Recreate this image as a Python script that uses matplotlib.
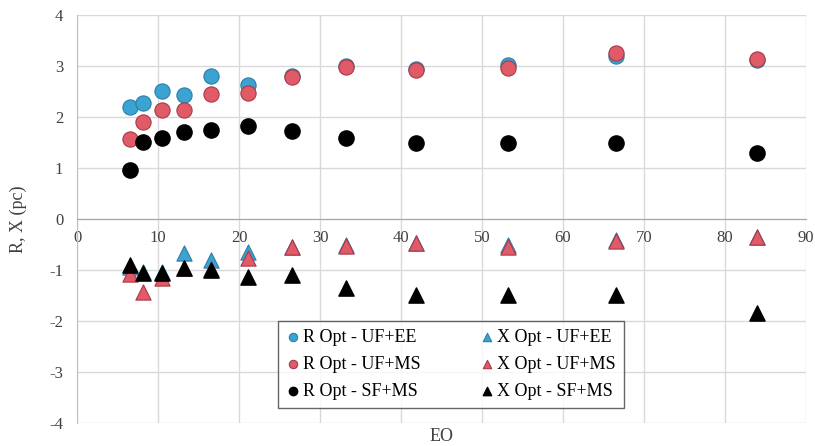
import matplotlib.pyplot as plt

plt.rcParams['font.family'] = ['Liberation Serif', 'DejaVu Serif']
plt.rcParams['axes.unicode_minus'] = False

eo = [6.5, 8.2, 10.5, 13.2, 16.5, 21.1, 26.6, 33.2, 41.8, 53.2, 66.5, 84.0]

r_uf_ee = [2.2, 2.28, 2.52, 2.44, 2.8, 2.62, 2.8, 3.0, 2.95, 3.02, 3.2, 3.12]
r_uf_ms = [1.56, 1.91, 2.14, 2.14, 2.46, 2.48, 2.79, 2.99, 2.92, 2.97, 3.25, 3.14]
r_sf_ms = [0.96, 1.52, 1.58, 1.71, 1.75, 1.82, 1.73, 1.58, 1.49, 1.49, 1.5, 1.3]

x_uf_ee = [-0.95, -1.05, -1.05, -0.67, -0.8, -0.64, -0.55, -0.52, -0.47, -0.52, -0.42, -0.35]
x_uf_ms = [-1.08, -1.43, -1.16, -0.97, -0.98, -0.76, -0.54, -0.53, -0.47, -0.54, -0.44, -0.35]
x_sf_ms = [-0.9, -1.06, -1.06, -0.97, -1.0, -1.13, -1.1, -1.36, -1.49, -1.5, -1.5, -1.84]

blue = '#3aa3d2'
red = '#e05a68'

fig = plt.figure(figsize=(8.15, 4.46), dpi=100)
ax = fig.add_axes([0.0945, 0.052, 0.8945, 0.914])

ax.scatter(eo, r_uf_ee, s=120, c=blue, edgecolors='#2b7fa6', linewidths=0.8,
           label='R Opt - UF+EE', zorder=3)
ax.scatter(eo, x_uf_ee, s=120, c=blue, marker='^', edgecolors='#2b7fa6', linewidths=0.8,
           label='X Opt - UF+EE', zorder=3)
ax.scatter(eo, r_uf_ms, s=120, c=red, edgecolors='#a83a48', linewidths=0.8,
           label='R Opt - UF+MS', zorder=3)
ax.scatter(eo, x_uf_ms, s=120, c=red, marker='^', edgecolors='#a83a48', linewidths=0.8,
           label='X Opt - UF+MS', zorder=3)
ax.scatter(eo, r_sf_ms, s=120, c='black', label='R Opt - SF+MS', zorder=3)
ax.scatter(eo, x_sf_ms, s=120, c='black', marker='^', label='X Opt - SF+MS', zorder=3)

ax.set_xlim(0, 90)
ax.set_ylim(-4, 4)
ax.set_xticks(range(0, 91, 10))
ax.set_yticks(range(-4, 5))

ax.spines['bottom'].set_position(('data', 0))
ax.spines['bottom'].set_color('#a6a6a6')
ax.spines['left'].set_color('#bfbfbf')
ax.spines['top'].set_visible(False)
ax.spines['right'].set_visible(False)
ax.tick_params(length=0, labelsize=12, colors='#404040')
ax.tick_params(axis='x', pad=8)
ax.tick_params(axis='y', pad=10)
ax.grid(True, color='#d9d9d9', linewidth=1)
ax.set_axisbelow(True)

ax.text(0.5, -0.034, 'EO', transform=ax.transAxes, ha='center', va='center',
        fontsize=13, color='#404040')
ax.set_ylabel('R, X (pc)', fontsize=13, color='#404040', labelpad=16)

h, l = ax.get_legend_handles_labels()
order = [0, 2, 4, 1, 3, 5]
leg = ax.legend([h[i] for i in order], [l[i] for i in order], ncol=2,
                loc='lower left', bbox_to_anchor=(0.263, 0.015), fontsize=13,
                frameon=True, fancybox=False, edgecolor='#404040',
                handlelength=0.8, handletextpad=0.15, columnspacing=3.3,
                borderpad=0.45, labelspacing=0.55, markerscale=0.55)
leg.get_frame().set_linewidth(1.0)

fig.savefig('out.png', dpi=100)
